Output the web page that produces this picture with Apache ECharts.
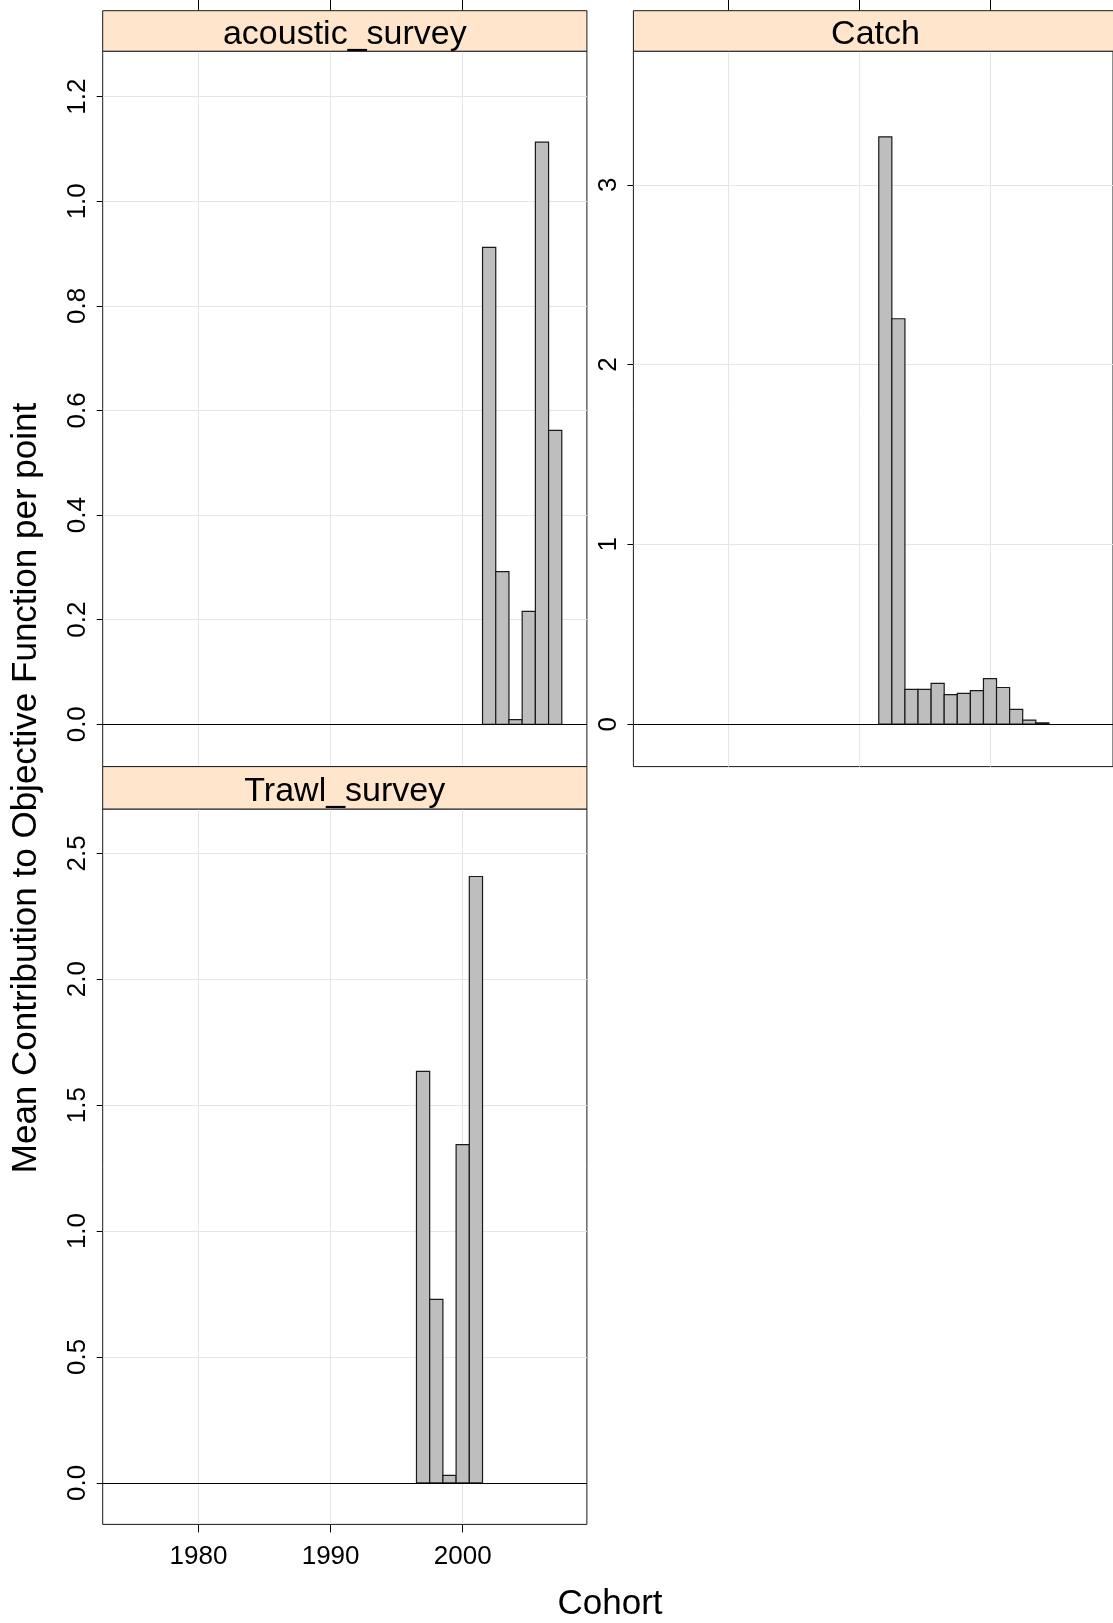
<!DOCTYPE html>
<html>
<head>
<meta charset="utf-8">
<script src="https://cdn.jsdelivr.net/npm/echarts@6/dist/echarts.min.js"></script>
<style>
html,body{margin:0;padding:0;background:#fff;}
#chart{width:1113px;height:1623px;}
</style>
</head>
<body>
<div id="chart"></div>
<script>
// ---- data ----
const panelNames = ['acoustic_survey', 'Catch', 'Trawl_survey'];
const acousticYears = [2002, 2003, 2004, 2005, 2006, 2007];
const acousticValues = [0.912, 0.292, 0.009, 0.216, 1.113, 0.562];
const catchYears = [1992, 1993, 1994, 1995, 1996, 1997, 1998, 1999, 2000, 2001, 2002, 2003, 2004];
const catchValues = [3.267, 2.255, 0.194, 0.194, 0.227, 0.164, 0.171, 0.187, 0.253, 0.204, 0.082, 0.023, 0.007];
const trawlYears = [1997, 1998, 1999, 2000, 2001];
const trawlValues = [1.634, 0.729, 0.030, 1.343, 2.408];
const xTicks = [1980, 1990, 2000];
const acousticTicks = [0, 0.2, 0.4, 0.6, 0.8, 1.0, 1.2];
const catchTicks = [0, 1, 2, 3];
const trawlTicks = [0, 0.5, 1.0, 1.5, 2.0, 2.5];
const xTitle = 'Cohort';
const yTitle = 'Mean Contribution to Objective Function per point';

// ---- layout / style ----
const FONT = 'Liberation Sans, Arial, sans-serif';
const X_MIN = 1972.75, X_MAX = 2009.4;
const PW = 484.2, PH = 715.4;
const LEFT1 = 102.7, LEFT2 = 633.4;
const TOP1 = 51.2, TOP2 = 809.0;
const STRIP_TOP = 10.7;
const GRIDC = '#e6e6e6';
const TICKFS = 26;

function zip(xs, ys) { return xs.map((x, i) => [x, ys[i]]); }

function renderBar(params, api) {
  const yr = api.value(0), v = api.value(1);
  const p1 = api.coord([yr - 0.5, v]);
  const p2 = api.coord([yr + 0.5, 0]);
  return {
    type: 'rect',
    shape: { x: p1[0], y: Math.min(p1[1], p2[1]), width: p2[0] - p1[0], height: Math.abs(p2[1] - p1[1]) },
    style: { fill: '#bebebe', stroke: '#1a1a1a', lineWidth: 1.2 }
  };
}

function xAxisDef(gridIndex, isTop, top) {
  return {
    type: 'value', gridIndex, min: X_MIN, max: X_MAX,
    position: isTop ? 'top' : 'bottom',
    offset: isTop ? (top - STRIP_TOP) : 0,
    axisLine: { show: false, onZero: false },
    axisTick: { show: true, inside: false, length: isTop ? 10.7 : 8, customValues: xTicks, lineStyle: { color: '#000', width: 1 } },
    axisLabel: { show: !isTop, customValues: xTicks, color: '#000', fontFamily: FONT, fontSize: TICKFS, margin: 19, formatter: v => String(v) },
    splitLine: { show: true, lineStyle: { color: GRIDC, width: 1 } }
  };
}

function yAxisDef(gridIndex, min, max, ticks, dec) {
  return {
    type: 'value', gridIndex, min, max, position: 'left',
    axisLine: { show: false, onZero: false },
    axisTick: { show: true, inside: false, length: 6, customValues: ticks, lineStyle: { color: '#000', width: 1 } },
    axisLabel: {
      show: true, customValues: ticks, rotate: 90, color: '#000', fontFamily: FONT, fontSize: TICKFS, margin: 12,
      formatter: v => Number(v).toFixed(dec)
    },
    splitLine: { show: true, lineStyle: { color: GRIDC, width: 1 } }
  };
}

function barSeries(idx, years, vals) {
  return {
    type: 'custom', xAxisIndex: idx, yAxisIndex: idx,
    data: zip(years, vals), renderItem: renderBar, silent: true, z: 3,
    markLine: {
      silent: true, symbol: 'none', label: { show: false },
      lineStyle: { color: '#000', width: 1, type: 'solid' },
      data: [{ yAxis: 0 }], animation: false
    }
  };
}

function strip(x, y, h, name) {
  return [
    { type: 'rect', shape: { x: x, y: y, width: PW, height: h }, style: { fill: '#ffe5cc', stroke: '#1a1a1a', lineWidth: 1 }, z: 10 },
    { type: 'text', x: x + PW / 2, y: y + h / 2 + 3.5, style: { text: name, fill: '#000', fontFamily: FONT, fontSize: 34, align: 'center', verticalAlign: 'middle' }, z: 11 }
  ];
}

const chart = echarts.init(document.getElementById('chart'), null, { renderer: 'canvas' });
chart.setOption({
  animation: false,
  backgroundColor: '#fff',
  grid: [
    { left: LEFT1, top: TOP1, width: PW, height: PH, show: true, borderColor: '#1a1a1a', borderWidth: 1, backgroundColor: 'transparent', containLabel: false },
    { left: LEFT2, top: TOP1, width: PW, height: PH, show: true, borderColor: '#1a1a1a', borderWidth: 1, backgroundColor: 'transparent', containLabel: false },
    { left: LEFT1, top: TOP2, width: PW, height: PH, show: true, borderColor: '#1a1a1a', borderWidth: 1, backgroundColor: 'transparent', containLabel: false }
  ],
  xAxis: [xAxisDef(0, true, TOP1), xAxisDef(1, true, TOP1), xAxisDef(2, false, TOP2)],
  yAxis: [
    yAxisDef(0, -0.081, 1.287, acousticTicks, 1),
    yAxisDef(1, -0.236, 3.743, catchTicks, 0),
    yAxisDef(2, -0.165, 2.676, trawlTicks, 1)
  ],
  series: [
    barSeries(0, acousticYears, acousticValues),
    barSeries(1, catchYears, catchValues),
    barSeries(2, trawlYears, trawlValues)
  ],
  graphic: [
    ...strip(LEFT1, STRIP_TOP, TOP1 - STRIP_TOP, panelNames[0]),
    ...strip(LEFT2, STRIP_TOP, TOP1 - STRIP_TOP, panelNames[1]),
    ...strip(LEFT1, TOP1 + PH, TOP2 - TOP1 - PH, panelNames[2]),
    { type: 'text', x: 26, y: 788, rotation: Math.PI / 2, style: { text: yTitle, fill: '#000', fontFamily: FONT, fontSize: 35, align: 'center', verticalAlign: 'middle' } },
    { type: 'text', x: 610, y: 1604, style: { text: xTitle, fill: '#000', fontFamily: FONT, fontSize: 35, align: 'center', verticalAlign: 'middle' } }
  ]
});
</script>
</body>
</html>
